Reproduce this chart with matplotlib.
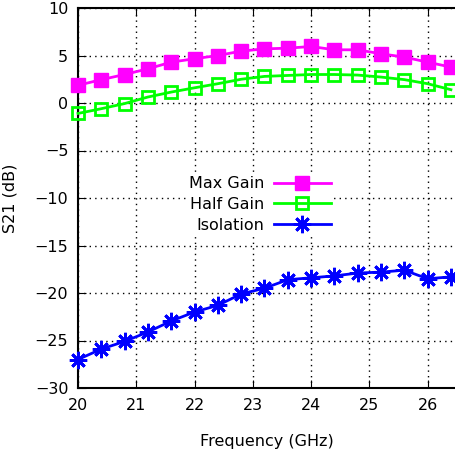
import matplotlib.pyplot as plt

freq = [20.0, 20.4, 20.8, 21.2, 21.6, 22.0, 22.4, 22.8, 23.2, 23.6, 24.0,
        24.4, 24.8, 25.2, 25.6, 26.0, 26.4]
max_gain = [1.86, 2.46, 3.0, 3.6, 4.3, 4.66, 5.0, 5.46, 5.7, 5.77, 5.95,
            5.6, 5.6, 5.18, 4.83, 4.3, 3.78]
half_gain = [-1.1, -0.6, -0.06, 0.63, 1.15, 1.6, 2.03, 2.5, 2.8, 2.9, 3.0,
             3.0, 2.94, 2.73, 2.46, 2.03, 1.4]
isolation = [-27.0, -25.9, -25.1, -24.1, -22.95, -22.0, -21.3, -20.1, -19.5,
             -18.6, -18.4, -18.2, -17.9, -17.8, -17.6, -18.5, -18.3]

plt.rcParams['font.family'] = ['DejaVu Sans']
fig = plt.figure(figsize=(4.55, 4.59), dpi=100)
ax = fig.add_axes([78 / 455, 71 / 459, 377 / 455, 380 / 459])

ax.plot(freq, max_gain, '-s', color='#ff00ff', lw=2, ms=9.5, label='Max Gain', clip_on=False, zorder=3)
ax.plot(freq, half_gain, '-s', color='#00ff00', lw=2, ms=8, mfc='none', mew=2,
        label='Half Gain', clip_on=False, zorder=3)
ax.plot(freq, isolation, '-', color='#0000ff', lw=2, marker=(8, 2, 0), ms=12.5, mew=2,
        label='Isolation', clip_on=False, zorder=3)

ax.set_xlim(20, 26.47)
ax.set_ylim(-30, 10)
ax.set_xticks([20, 21, 22, 23, 24, 25, 26])
ax.set_yticks(range(-30, 11, 5))
ax.grid(True, color='black', linestyle=(0, (1, 3)), lw=1)
ax.tick_params(direction='in', top=True, right=False, labelsize=11.5, length=6, pad=7)
ax.spines['right'].set_visible(False)
for s in ['left', 'bottom', 'top']:
    ax.spines[s].set_linewidth(1.5)

ax.set_xlabel('Frequency (GHz)', fontsize=11.5, labelpad=15)
ax.set_ylabel('S21 (dB)', fontsize=11.5, labelpad=12)

leg = ax.legend(loc='upper right', bbox_to_anchor=(0.68, 0.565), frameon=True, fontsize=11.5,
                markerfirst=False, handlelength=3.6, handletextpad=0.6, labelspacing=0.35,
                borderpad=0.2, borderaxespad=0, fancybox=False, framealpha=1)
leg.get_frame().set_edgecolor('white')
leg.get_frame().set_linewidth(0)
for t in leg.get_texts():
    t.set_ha('right')

fig.savefig('out.png', dpi=100)
